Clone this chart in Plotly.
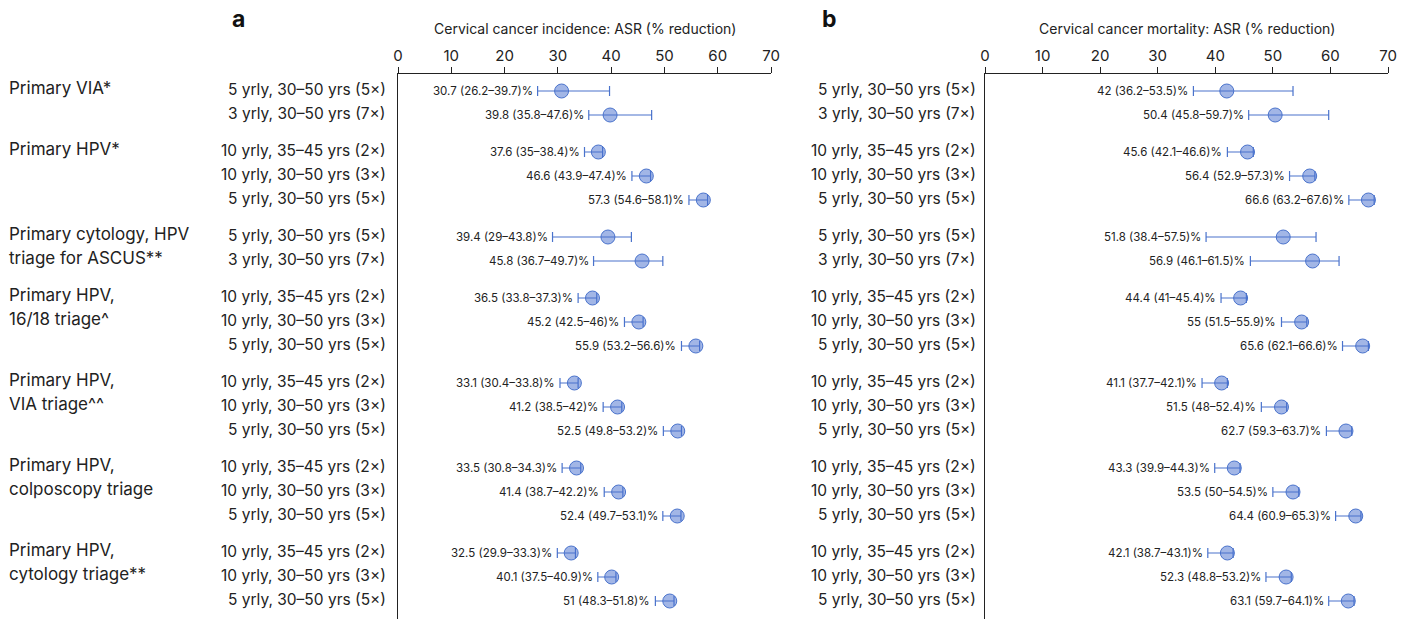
import plotly.graph_objects as go

# ---------------- data ----------------
groups = [
    ["Primary VIA*"],
    ["Primary HPV*"],
    ["Primary cytology, HPV", "triage for ASCUS**"],
    ["Primary HPV,", "16/18 triage^"],
    ["Primary HPV,", "VIA triage^^"],
    ["Primary HPV,", "colposcopy triage"],
    ["Primary HPV,", "cytology triage**"],
]
group_rows = [
    ["5 yrly, 30–50 yrs (5×)", "3 yrly, 30–50 yrs (7×)"],
    ["10 yrly, 35–45 yrs (2×)", "10 yrly, 30–50 yrs (3×)", "5 yrly, 30–50 yrs (5×)"],
    ["5 yrly, 30–50 yrs (5×)", "3 yrly, 30–50 yrs (7×)"],
    ["10 yrly, 35–45 yrs (2×)", "10 yrly, 30–50 yrs (3×)", "5 yrly, 30–50 yrs (5×)"],
    ["10 yrly, 35–45 yrs (2×)", "10 yrly, 30–50 yrs (3×)", "5 yrly, 30–50 yrs (5×)"],
    ["10 yrly, 35–45 yrs (2×)", "10 yrly, 30–50 yrs (3×)", "5 yrly, 30–50 yrs (5×)"],
    ["10 yrly, 35–45 yrs (2×)", "10 yrly, 30–50 yrs (3×)", "5 yrly, 30–50 yrs (5×)"],
]

inc_val = [30.7, 39.8, 37.6, 46.6, 57.3, 39.4, 45.8, 36.5, 45.2, 55.9,
           33.1, 41.2, 52.5, 33.5, 41.4, 52.4, 32.5, 40.1, 51]
inc_lo = [26.2, 35.8, 35, 43.9, 54.6, 29, 36.7, 33.8, 42.5, 53.2,
          30.4, 38.5, 49.8, 30.8, 38.7, 49.7, 29.9, 37.5, 48.3]
inc_hi = [39.7, 47.6, 38.4, 47.4, 58.1, 43.8, 49.7, 37.3, 46, 56.6,
          33.8, 42, 53.2, 34.3, 42.2, 53.1, 33.3, 40.9, 51.8]

mor_val = [42, 50.4, 45.6, 56.4, 66.6, 51.8, 56.9, 44.4, 55, 65.6,
           41.1, 51.5, 62.7, 43.3, 53.5, 64.4, 42.1, 52.3, 63.1]
mor_lo = [36.2, 45.8, 42.1, 52.9, 63.2, 38.4, 46.1, 41, 51.5, 62.1,
          37.7, 48, 59.3, 39.9, 50, 60.9, 38.7, 48.8, 59.7]
mor_hi = [53.5, 59.7, 46.6, 57.3, 67.6, 57.5, 61.5, 45.4, 55.9, 66.6,
          42.1, 52.4, 63.7, 44.3, 54.5, 65.3, 43.1, 53.2, 64.1]

x_ticks = [0, 10, 20, 30, 40, 50, 60, 70]
title_a = "Cervical cancer incidence: ASR (% reduction)"
title_b = "Cervical cancer mortality: ASR (% reduction)"

# ---------------- layout helpers ----------------
W, H = 1416, 619
FONT = "Inter"
TXT = "#222222"
BLUE = "#4a73cc"
FILL = "rgba(70,110,205,0.5)"
GAP = 13 / 24.0

ypos = []
group_first = []
k = 0
for g, rows in enumerate(group_rows):
    group_first.append(k + g * GAP)
    for _ in rows:
        ypos.append(k + g * GAP)
        k += 1
row_labels = [r for rows in group_rows for r in rows]

PX = 24.0
top_px, row0_px = 74, 91
y_range = [(H - row0_px) / PX, (top_px - row0_px) / PX]

dom_a = [398 / W, 771 / W]
dom_b = [985 / W, 1388 / W]

fig = go.Figure()


def add_panel(vals, lo, hi, xa, ya):
    fig.add_trace(go.Scatter(
        x=vals, y=ypos, mode="markers", xaxis=xa, yaxis=ya,
        marker=dict(size=14, color=FILL, line=dict(color=BLUE, width=1)),
        error_x=dict(type="data", symmetric=False,
                     array=[h - v for h, v in zip(hi, vals)],
                     arrayminus=[v - l for v, l in zip(vals, lo)],
                     color=BLUE, thickness=1.2, width=5),
        cliponaxis=False, showlegend=False, hoverinfo="skip"))
    for v, l, h, y in zip(vals, lo, hi, ypos):
        fig.add_annotation(x=l, y=y, xref=xa, yref=ya,
                           text=f"{v:g} ({l:g}–{h:g})%", showarrow=False,
                           xanchor="right", yanchor="middle", xshift=-3,
                           font=dict(family=FONT, size=11.5, color=TXT))


add_panel(inc_val, inc_lo, inc_hi, "x", "y")
add_panel(mor_val, mor_lo, mor_hi, "x2", "y2")

axis_common = dict(range=[0, 70], tickvals=x_ticks, side="top", showline=True,
                   linecolor=TXT, linewidth=1, ticks="outside", ticklen=6,
                   tickcolor=TXT, tickwidth=1, showgrid=False, zeroline=False,
                   automargin=False,
                   tickfont=dict(family=FONT, size=15, color=TXT), fixedrange=True)
yaxis_common = dict(range=y_range, showline=True, linecolor=TXT, linewidth=1,
                    showticklabels=False, ticks="", showgrid=False, zeroline=False,
                    automargin=False, domain=[0, 1 - top_px / H])

fig.update_layout(
    template="none",
    width=W, height=H,
    margin=dict(l=0, r=0, t=0, b=0, autoexpand=False),
    paper_bgcolor="white", plot_bgcolor="white",
    xaxis=dict(domain=dom_a, anchor="y", **axis_common),
    yaxis=dict(anchor="x", **yaxis_common),
    xaxis2=dict(domain=dom_b, anchor="y2", **axis_common),
    yaxis2=dict(anchor="x2", **yaxis_common),
)

for lab, y in zip(row_labels, ypos):
    for xp, yr in ((388 / W, "y"), (978 / W, "y2")):
        fig.add_annotation(x=xp, y=y, xref="paper", yref=yr, text=lab,
                           showarrow=False, xanchor="right", yanchor="middle",
                           yshift=2, font=dict(family=FONT, size=15.5, color=TXT))

for lines, y0 in zip(groups, group_first):
    for i, line in enumerate(lines):
        fig.add_annotation(x=7 / W, y=y0 + i, xref="paper", yref="y", text=line,
                           showarrow=False, xanchor="left", yanchor="middle",
                           yshift=3, font=dict(family=FONT, size=17, color=TXT))

for dom, t in ((dom_a, title_a), (dom_b, title_b)):
    fig.add_annotation(x=(dom[0] + dom[1]) / 2, y=1 - 28 / H, xref="paper", yref="paper",
                       text=t, showarrow=False, xanchor="center", yanchor="middle",
                       font=dict(family=FONT, size=14, color=TXT))

for xp, t in ((238 / W, "a"), (830 / W, "b")):
    fig.add_annotation(x=xp, y=1 - 19 / H, xref="paper", yref="paper",
                       text=f"<b>{t}</b>", showarrow=False, xanchor="center",
                       yanchor="middle", font=dict(family=FONT, size=23, color="#111111"))

fig.write_html("out.html")
